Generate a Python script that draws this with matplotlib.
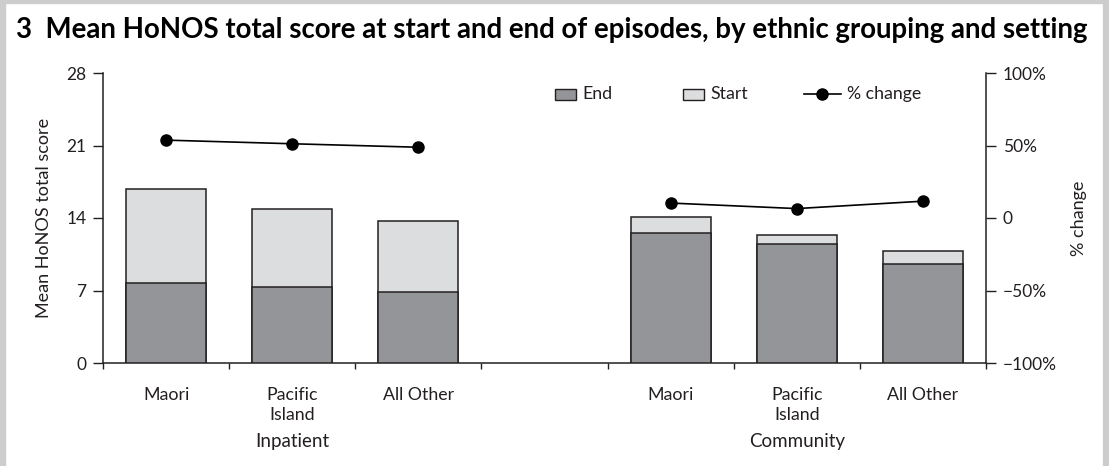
import matplotlib
matplotlib.use("Agg")
import matplotlib.pyplot as plt
from matplotlib.patches import Rectangle
import numpy as np

# ---- data ----
groups = ["Inpatient", "Community"]
categories = ["Maori", "Pacific\nIsland", "All Other"]
start_inpatient = [16.8, 14.85, 13.7]
end_inpatient = [7.75, 7.3, 6.9]
start_community = [14.05, 12.4, 10.8]
end_community = [12.55, 11.5, 9.55]
pct_inpatient = [53.7, 51.2, 48.8]
pct_community = [10.3, 6.5, 11.6]
left_ticks = [0, 7, 14, 21, 28]
right_ticks = [-100, -50, 0, 50, 100]
right_labels = ["\u2212100%", "\u221250%", "0", "50%", "100%"]
legend_labels = ["End", "Start", "% change"]

END_C = "#939598"
START_C = "#dcddde"
TXT = "#231f20"
EDGE = "#231f20"

plt.rcParams['font.family'] = ['Lato', 'DejaVu Sans']

W, H = 1109, 466
fig = plt.figure(figsize=(W/100, H/100), dpi=100)

# overlay in pixel coordinates for frame, title and legend
ov = fig.add_axes([0, 0, 1, 1], zorder=-1)
ov.set_xlim(0, W)
ov.set_ylim(H, 0)
ov.axis("off")

ax = fig.add_axes([103/W, 1-363/H, (986-103)/W, (363-73)/H])
ax.patch.set_alpha(0)

pos_in = np.arange(3)
pos_co = np.arange(3) + 4
width = 0.635

for pos, st, en in [(pos_in, start_inpatient, end_inpatient), (pos_co, start_community, end_community)]:
    ax.bar(pos, st, width=width, color=START_C, edgecolor=EDGE, linewidth=1.1, zorder=2)
    ax.bar(pos, en, width=width, color=END_C, edgecolor=EDGE, linewidth=1.1, zorder=3)

ax.set_xlim(-0.5, 6.5)
ax.set_ylim(0, 28)
ax.set_yticks(left_ticks)
ax.set_xticks(np.arange(-0.5, 7.0, 1.0))
ax.set_xticklabels([])
ax.set_xticks(list(pos_in) + list(pos_co), minor=True)
ax.set_xticklabels(categories + categories, minor=True, fontsize=12.8, color=TXT, linespacing=1.35)
ax.tick_params(axis='x', which='major', length=4, width=1, direction='out', color=EDGE)
ax.tick_params(axis='x', which='minor', length=0, pad=17)
ax.tick_params(axis='y', length=7, width=1, direction='out', labelsize=12.5, labelcolor=TXT, color=EDGE, pad=5)
ax.spines["top"].set_visible(False)
ax.spines["right"].set_visible(False)
for s in ["left", "bottom"]:
    ax.spines[s].set_linewidth(1.1)
    ax.spines[s].set_color(EDGE)
ax.set_ylabel("Mean HoNOS total score", fontsize=13, color=TXT, labelpad=10)

ax2 = ax.twinx()
ax2.set_ylim(-100, 100)
ax2.set_yticks(right_ticks)
ax2.set_yticklabels(right_labels)
ax2.tick_params(axis='y', length=7, width=1, direction='out', labelsize=12.5, labelcolor=TXT, color=EDGE, pad=5)
for s in ["top", "left", "bottom"]:
    ax2.spines[s].set_visible(False)
ax2.spines["right"].set_linewidth(1.1)
ax2.spines["right"].set_color(EDGE)
ax2.set_ylabel("% change", fontsize=13, color=TXT, labelpad=10)

for pos, pc in [(pos_in, pct_inpatient), (pos_co, pct_community)]:
    ax2.plot(pos, pc, color="black", linewidth=1.2, marker="o", markersize=8, zorder=5)

# group labels
for gx, g in [(1, groups[0]), (5, groups[1])]:
    ax.text(gx, -0.27, g, transform=ax.get_xaxis_transform(), ha="center", va="center",
            fontsize=13.5, color=TXT)

# legend (pixel coordinates)
ly = 94
ov.add_patch(Rectangle((555, ly-5.5), 21, 11, facecolor=END_C, edgecolor=EDGE, linewidth=1.0))
ov.text(582, ly, legend_labels[0], fontsize=12.8, color=TXT, va="center", ha="left")
ov.add_patch(Rectangle((683, ly-5.5), 21, 11, facecolor=START_C, edgecolor=EDGE, linewidth=1.0))
ov.text(710, ly, legend_labels[1], fontsize=12.8, color=TXT, va="center", ha="left")
ov.plot([804, 841], [ly, ly], color="black", linewidth=1.2)
ov.plot([822], [ly], color="black", marker="o", markersize=8, linestyle="none")
ov.text(847, ly, legend_labels[2], fontsize=12.8, color=TXT, va="center", ha="left")

# title
ov.text(16, 30, "3  Mean HoNOS total score at start and end of episodes, by ethnic grouping and setting",
        fontsize=19.9, fontweight="bold", color="black", va="center", ha="left")

# grey frame
fc = "#cdcdcd"
ov.add_patch(Rectangle((0, 0), 5, H, color=fc, zorder=0))
ov.add_patch(Rectangle((0, 0), W, 3, color=fc, zorder=0))
ov.add_patch(Rectangle((W-6, 0), 6, H, color=fc, zorder=0))

fig.savefig("out.png", dpi=100)
